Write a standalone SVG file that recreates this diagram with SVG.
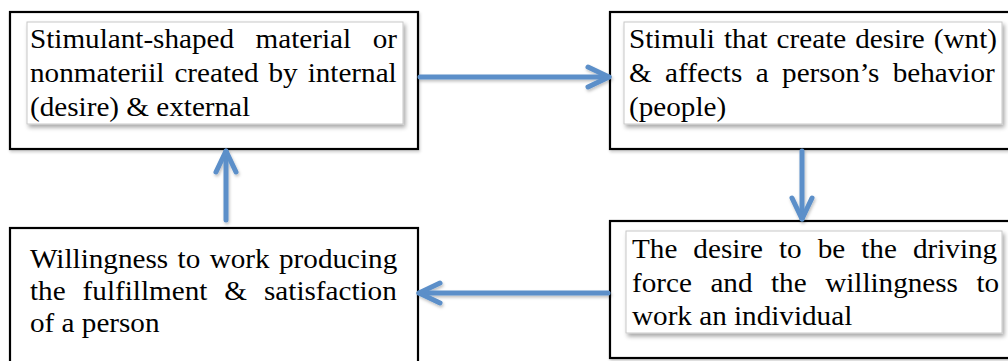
<svg xmlns="http://www.w3.org/2000/svg" width="1008" height="361" viewBox="0 0 1008 361">
<style>
.outer{fill:#ffffff;stroke:#000000;stroke-width:2.2}
.inner{fill:#ffffff;stroke:#c8c8c8;stroke-width:1;filter:url(#sh)}
.t{font-family:"Liberation Serif","Times New Roman",serif;font-size:27px;fill:#000000}
.conn{fill:none;stroke:#5b8fc9;stroke-width:5;stroke-linecap:round;marker-end:url(#chev)}
</style>
<defs>
<filter id="sh" x="-5%" y="-10%" width="115%" height="130%">
<feDropShadow dx="2" dy="3" stdDeviation="2" flood-color="#000" flood-opacity="0.35"/>
</filter>
<filter id="bsh" x="-5%" y="-10%" width="115%" height="130%">
<feDropShadow dx="1" dy="2" stdDeviation="1.5" flood-color="#000" flood-opacity="0.2"/>
</filter>
<filter id="ash" filterUnits="userSpaceOnUse" x="0" y="0" width="1008" height="361">
<feDropShadow dx="1" dy="2" stdDeviation="1.5" flood-color="#000" flood-opacity="0.25"/>
</filter>
<marker id="chev" markerUnits="userSpaceOnUse" markerWidth="40" markerHeight="40" refX="0" refY="0" viewBox="-30 -20 40 40" orient="auto" overflow="visible">
<path d="M-21,-10 L0,0 L-21,10" fill="none" stroke="#5b8fc9" stroke-width="5" stroke-linecap="round" stroke-linejoin="round"/>
</marker>
</defs>
<rect width="1008" height="361" fill="#ffffff"/>

<g id="node1">
<rect class="outer" x="10" y="12" width="408" height="137" filter="url(#bsh)"/>
<rect class="inner" x="27" y="22" width="376" height="102"/>
<text class="t" transform="translate(30,48) scale(1.08,1)" style="word-spacing:13.2px">Stimulant-shaped material or</text>
<text class="t" transform="translate(30,82) scale(1.08,1)" style="word-spacing:2.5px">nonmateriil created by internal</text>
<text class="t" transform="translate(30,116) scale(1.08,1)">(desire) &amp; external</text>
</g>

<g id="node2">
<rect class="outer" x="610" y="12" width="402" height="137" filter="url(#bsh)"/>
<rect class="inner" x="624" y="22" width="378" height="102"/>
<text class="t" transform="translate(629,48) scale(1.08,1)" style="word-spacing:1.6px">Stimuli that create desire (wnt)</text>
<text class="t" transform="translate(629,82) scale(1.08,1)" style="word-spacing:5.7px">&amp; affects a person’s behavior</text>
<text class="t" transform="translate(629,116) scale(1.08,1)">(people)</text>
</g>

<g id="node3">
<rect class="outer" x="10" y="228" width="408" height="140"/>
<text class="t" transform="translate(30,268) scale(1.08,1)" style="word-spacing:2px">Willingness to work producing</text>
<text class="t" transform="translate(30,300) scale(1.08,1)" style="word-spacing:9px">the fulfillment &amp; satisfaction</text>
<text class="t" transform="translate(30,332) scale(1.08,1)">of a person</text>
</g>

<g id="node4">
<rect class="outer" x="610" y="221" width="402" height="137" filter="url(#bsh)"/>
<rect class="inner" x="626" y="231" width="376" height="102"/>
<text class="t" transform="translate(632,258) scale(1.08,1)" style="word-spacing:8.1px">The desire to be the driving</text>
<text class="t" transform="translate(632,292) scale(1.08,1)" style="word-spacing:10.4px">force and the willingness to</text>
<text class="t" transform="translate(632,325) scale(1.08,1)">work an individual</text>
</g>

<g id="connectors" filter="url(#ash)">
<path class="conn" d="M420,77 L609,77"/>
<path class="conn" d="M802,151 L802,219"/>
<path class="conn" d="M608,293 L419,293"/>
<path class="conn" d="M226,220 L226,151"/>
</g>
</svg>
